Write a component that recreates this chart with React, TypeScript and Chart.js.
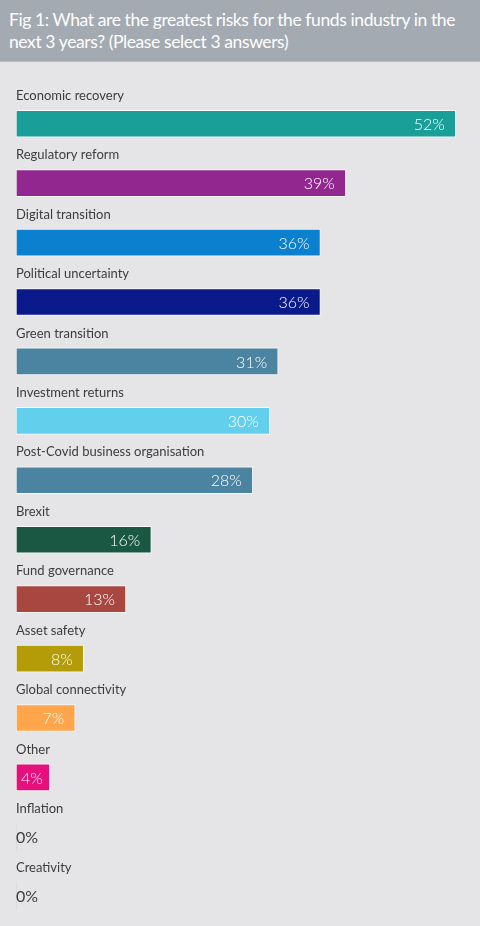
import React, { useEffect, useRef } from "react";
import { Chart, registerables } from "chart.js";

Chart.register(...registerables);

const titleLines = [
  "Fig 1: What are the greatest risks for the funds industry in the",
  "next 3 years? (Please select 3 answers)",
];

const categories = [
  "Economic recovery",
  "Regulatory reform",
  "Digital transition",
  "Political uncertainty",
  "Green transition",
  "Investment returns",
  "Post-Covid business organisation",
  "Brexit",
  "Fund governance",
  "Asset safety",
  "Global connectivity",
  "Other",
  "Inflation",
  "Creativity",
];

const values = [52, 39, 36, 36, 31, 30, 28, 16, 13, 8, 7, 4, 0, 0];

const barColors = [
  "#1a9e98",
  "#92278f",
  "#0a80cf",
  "#0b1a8a",
  "#4a84a0",
  "#62cfec",
  "#4a84a0",
  "#1b5843",
  "#a8473f",
  "#b39c08",
  "#ffa64c",
  "#e6107c",
  "#cccccc",
  "#cccccc",
];

const FONT = "Lato, 'Noto Sans', sans-serif";

const labelPlugin = {
  id: "labelPlugin",
  afterDatasetsDraw(chart: any) {
    const ctx = chart.ctx;
    const meta = chart.getDatasetMeta(0);
    const area = chart.chartArea;
    ctx.save();
    meta.data.forEach((el: any, i: number) => {
      const y = el.y;
      ctx.textBaseline = "middle";
      ctx.textAlign = "left";
      ctx.fillStyle = "#3c3c3c";
      ctx.font = `13px ${FONT}`;
      ctx.fillText(categories[i], area.left, y - 28);
      const v = values[i];
      const txt = `${v}%`;
      if (v === 0) {
        ctx.font = `16px ${FONT}`;
        ctx.fillStyle = "#3c3c3c";
        ctx.textAlign = "left";
        ctx.fillText(txt, area.left, y + 1);
      } else {
        ctx.font = `300 16px ${FONT}`;
        ctx.fillStyle = "#ffffff";
        ctx.textAlign = "right";
        const w = el.x - el.base;
        ctx.fillText(txt, el.x - (w < 45 ? 7 : 11), y + 1);
      }
    });
    ctx.restore();
  },
};

export default function App() {
  const canvasRef = useRef<HTMLCanvasElement | null>(null);

  useEffect(() => {
    document.body.style.margin = "0";
    document.body.style.background = "#e5e5e7";
    const canvas = canvasRef.current;
    if (!canvas) return;
    const chart = new Chart(canvas, {
      type: "bar",
      data: {
        labels: categories,
        datasets: [
          {
            data: values,
            backgroundColor: barColors,
            borderColor: "rgba(255,255,255,0.75)",
            borderWidth: (c: any) => (values[c.dataIndex] === 0 ? 0 : 1),
            borderSkipped: false,
            barThickness: 27,
          },
        ],
      },
      options: {
        indexAxis: "y",
        animation: false,
        responsive: true,
        maintainAspectRatio: false,
        layout: { padding: { top: 32, left: 16, right: 4, bottom: 0 } },
        plugins: {
          legend: { display: false },
          tooltip: { enabled: false },
          title: { display: false },
        },
        scales: {
          x: { display: false, min: 0, max: 54.4 },
          y: { display: false },
        },
      },
      plugins: [labelPlugin],
    } as any);
    return () => chart.destroy();
  }, []);

  return (
    <div style={{ width: 480, background: "#e5e5e7" }}>
      <div
        style={{
          height: 62,
          boxSizing: "border-box",
          background: "#a3aab2",
          color: "#ffffff",
          fontFamily: FONT,
          fontSize: 17.5,
          lineHeight: "22px",
          padding: "9px 0 0 9px",
          letterSpacing: "-0.4px",
          whiteSpace: "nowrap",
          borderBottom: "1px solid #b8bec4",
        }}
      >
        {titleLines[0]}
        <br />
        {titleLines[1]}
      </div>
      <div style={{ position: "relative", width: 480, height: 864 }}>
        <canvas ref={canvasRef} />
      </div>
    </div>
  );
}
